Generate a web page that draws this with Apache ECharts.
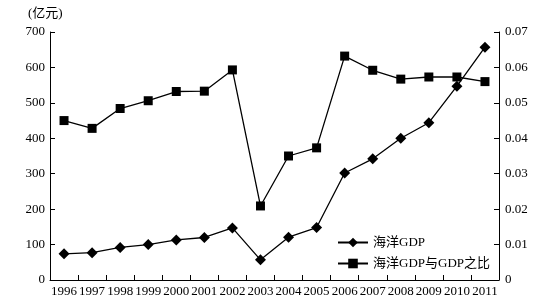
<!DOCTYPE html>
<html><head><meta charset="utf-8">
<script src="https://cdn.jsdelivr.net/npm/echarts@6/dist/echarts.min.js"></script>
<style>html,body{margin:0;padding:0;background:#fff}#c{width:542px;height:305px}</style>
</head><body><div id="c"></div>
<script>
const years = ['1996','1997','1998','1999','2000','2001','2002','2003','2004','2005','2006','2007','2008','2009','2010','2011'];
const marineGDP = [74, 77, 92, 100, 113, 120, 147, 57, 121, 148, 302, 342, 400, 444, 547, 657];
const ratio = [0.0450, 0.0428, 0.0484, 0.0506, 0.0532, 0.0533, 0.0593, 0.0209, 0.0350, 0.0373, 0.0632, 0.0592, 0.0567, 0.0573, 0.0573, 0.0560];
const leftTicks = [0, 100, 200, 300, 400, 500, 600, 700];
const rightTicks = [0, 0.01, 0.02, 0.03, 0.04, 0.05, 0.06, 0.07];

const FONT = '"Liberation Serif", "Noto Sans CJK SC", serif';
const chart = echarts.init(document.getElementById('c'));
const axisCommon = {
  axisLine: {show: true, lineStyle: {color: '#000', width: 1}},
  axisTick: {show: true, inside: true, length: 5, lineStyle: {color: '#000'}},
  splitLine: {show: false},
  axisLabel: {color: '#000', fontFamily: FONT, fontSize: 13}
};
chart.setOption({
  animation: false,
  textStyle: {fontFamily: FONT, color: '#000'},
  grid: {left: 50, right: 43, top: 32, bottom: 25, containLabel: false},
  graphic: [{type: 'text', left: 28, top: 7, style: {text: '(亿元)', font: '13px ' + FONT, fill: '#000'}}],
  legend: {
    orient: 'vertical', left: 332, top: 231, itemGap: 8, itemWidth: 30, itemHeight: 12,
    textStyle: {fontFamily: FONT, fontSize: 13, color: '#000'},
    data: ['海洋GDP', '海洋GDP与GDP之比']
  },
  xAxis: {
    type: 'category', data: years, boundaryGap: true,
    axisLine: {show: true, lineStyle: {color: '#000', width: 1}},
    axisTick: {show: true, inside: true, length: 5, alignWithLabel: false, interval: 0, lineStyle: {color: '#000'}},
    axisLabel: {color: '#000', fontFamily: FONT, fontSize: 13, interval: 0, margin: 5}
  },
  yAxis: [
    Object.assign({}, axisCommon, {type: 'value', position: 'left', min: leftTicks[0], max: leftTicks[leftTicks.length-1], interval: 100,
      axisLabel: Object.assign({}, axisCommon.axisLabel, {margin: 5})}),
    Object.assign({}, axisCommon, {type: 'value', position: 'right', min: rightTicks[0], max: rightTicks[rightTicks.length-1], interval: 0.01,
      axisLabel: Object.assign({}, axisCommon.axisLabel, {margin: 6, formatter: v => v === 0 ? '0' : v.toFixed(2)})})
  ],
  series: [
    {name: '海洋GDP', type: 'line', yAxisIndex: 0, data: marineGDP, symbol: 'diamond', symbolSize: 11,
      itemStyle: {color: '#000'}, lineStyle: {color: '#000', width: 1.3}},
    {name: '海洋GDP与GDP之比', type: 'line', yAxisIndex: 1, data: ratio, symbol: 'rect', symbolSize: 9,
      itemStyle: {color: '#000'}, lineStyle: {color: '#000', width: 1.3}}
  ]
});
</script></body></html>
